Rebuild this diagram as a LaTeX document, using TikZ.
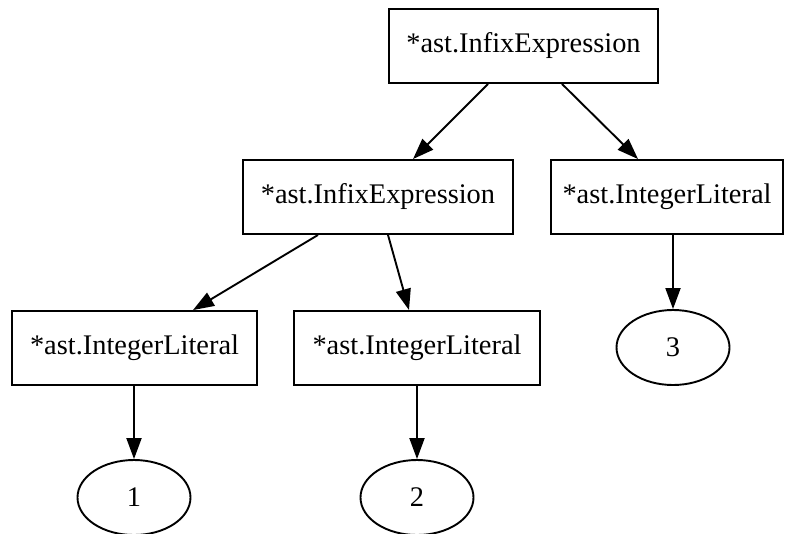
\documentclass[tikz,border=0pt]{standalone}
\usepackage{fontspec}
\setmainfont{Liberation Serif}
\usetikzlibrary{arrows.meta,shapes.geometric}
\begin{document}
\begin{tikzpicture}[x=1pt,y=-1pt,
  box/.style={draw,line width=1.9pt,rectangle,inner sep=0pt,minimum height=74pt,font=\fontsize{28.4}{34}\selectfont},
  oval/.style={draw,line width=1.9pt,ellipse,inner sep=0pt,minimum width=113pt,minimum height=75pt,font=\fontsize{28.4}{34}\selectfont},
  arr/.style={line width=1.9pt,-{Triangle[length=21pt,width=15pt]}}]
\useasboundingbox (0,0) rectangle (786,533);
\node[box,minimum width=269pt] (root) at (523.5,46) {*ast.InfixExpression};
\node[box,minimum width=270pt] (mid) at (378,197) {*ast.InfixExpression};
\node[box,minimum width=232pt] (right) at (667,197) {*ast.IntegerLiteral};
\node[box,minimum width=245pt] (lb) at (134.5,348) {*ast.IntegerLiteral};
\node[box,minimum width=246pt] (mb) at (417,348) {*ast.IntegerLiteral};
\node[oval] (e3) at (673,347.5) {3};
\node[oval] (e1) at (134,497.5) {1};
\node[oval] (e2) at (417,497.5) {2};
\draw[arr] ([xshift=-35.5pt]root.south) -- ([xshift=35pt]mid.north);
\draw[arr] ([xshift=38.5pt]root.south) -- ([xshift=-29pt]right.north);
\draw[arr] ([xshift=-60pt]mid.south) -- ([xshift=58.5pt]lb.north);
\draw[arr] ([xshift=10pt]mid.south) -- ([xshift=-8pt]mb.north);
\draw[arr] ([xshift=6pt]right.south) -- (e3.north);
\draw[arr] ([xshift=-0.5pt]lb.south) -- (e1.north);
\draw[arr] (mb.south) -- (e2.north);
\end{tikzpicture}
\end{document}
